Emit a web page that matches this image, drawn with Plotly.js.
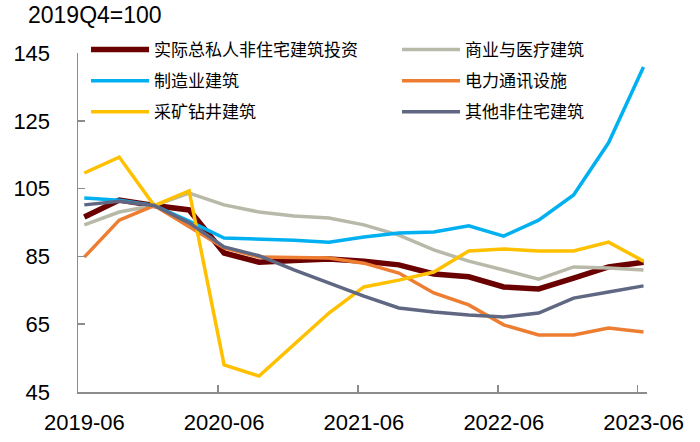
<!DOCTYPE html>
<html>
<head>
<meta charset="utf-8">
<script src="https://cdn.plot.ly/plotly-3.0.1.min.js"></script>
<style>html,body{margin:0;padding:0;background:#fff;}#chart{width:700px;height:442px;}</style>
</head>
<body>
<div id="chart"></div>
<script>
var quarters = ['2019-06','2019-09','2019-12','2020-03','2020-06','2020-09','2020-12','2021-03','2021-06','2021-09','2021-12','2022-03','2022-06','2022-09','2022-12','2023-03','2023-06'];
var seriesNames = ['实际总私人非住宅建筑投资','商业与医疗建筑','制造业建筑','电力通讯设施','采矿钻井建筑','其他非住宅建筑'];
var totalPrivate = [96.6,101.6,100,98.7,86.0,83.3,83.8,84.2,83.6,82.5,79.8,79.0,76.0,75.4,78.6,81.9,83.3];
var commercialHealth = [94.3,98.1,100,103.7,100.2,98.1,96.9,96.3,94.3,91.3,86.9,83.6,81.0,78.3,81.9,81.6,81.0];
var manufacturing = [102.2,101.6,100,95.4,90.4,90.1,89.8,89.2,90.7,91.9,92.2,94.0,91.0,95.7,103.1,118.5,140.9];
var powerComm = [84.8,95.7,100,93.7,87.5,84.8,84.6,84.5,83.0,80.1,74.2,70.7,64.8,61.8,61.8,63.9,62.7];
var miningDrilling = [109.6,114.3,100,104.3,53.0,49.7,59.0,68.3,76.0,78.0,80.4,86.6,87.2,86.6,86.6,89.2,83.6];
var otherNonRes = [100.2,101.3,100,94.9,87.8,85.2,81.0,77.2,73.3,69.8,68.6,67.7,67.1,68.3,72.7,74.5,76.3];
var yTicks = [45,65,85,105,125,145];

var seriesValues = [totalPrivate, commercialHealth, manufacturing, powerComm, miningDrilling, otherNonRes];
var colors = ['#6B0000','#B9B9A9','#00B0F0','#ED7D31','#FFC000','#5F6782'];
var widths = [5.5,3.5,3.5,3.5,3.5,3.5];
var legendOf = ['legend','legend2','legend','legend2','legend','legend2'];
var xIdx = quarters.map(function(q,i){return i;});

var traces = seriesValues.map(function(vals,k){
  return {x:xIdx, y:vals, type:'scatter', mode:'lines', name:seriesNames[k],
    legend:legendOf[k], legendgroup:'g'+k,
    line:{color:colors[k], width:widths[k]}, hoverinfo:'skip'};
});

var tickIdx = [], tickTxt = [];
quarters.forEach(function(q,i){ if(i%4===0){ tickIdx.push(i-0.17); tickTxt.push(q);} });

var font = 'Liberation Sans, Arial, Noto Sans CJK SC, sans-serif';
var legFont = {size:17, family:'Noto Sans CJK SC, sans-serif', color:'#000'};
function legendCfg(xp){
  return {orientation:'v', x:xp, xanchor:'left', y:1.062, yanchor:'top',
    font:legFont, bgcolor:'rgba(0,0,0,0)', traceorder:'grouped', tracegroupgap:6, itemwidth:58};
}
var layout = {
  width:700, height:442,
  margin:{l:78, r:53, t:53, b:50},
  paper_bgcolor:'#fff', plot_bgcolor:'#fff',
  font:{family:font, color:'#000'},
  title:{text:'2019Q4=100', font:{size:23, family:font, color:'#000'}, xref:'container', yref:'container', x:28/700, xanchor:'left', y:1-15/442, yanchor:'middle'},
  showlegend:true,
  legend:legendCfg(0.0141),
  legend2:legendCfg(0.5606),
  xaxis:{type:'linear', range:[-0.18,16.1], tickmode:'array', tickvals:tickIdx, ticktext:tickTxt,
    showgrid:false, zeroline:false, showline:true, linecolor:'#8C8C8C', linewidth:1.5,
    ticks:'inside', ticklen:7, tickcolor:'#8C8C8C', tickwidth:1.5, ticklabelshift:6, ticklabelstandoff:10,
    tickfont:{size:22, family:font, color:'#000'}},
  yaxis:{range:[45,145], tickmode:'array', tickvals:yTicks,
    showgrid:false, zeroline:false, showline:true, linecolor:'#8C8C8C', linewidth:1.5,
    ticks:'inside', ticklen:7, tickcolor:'#8C8C8C', tickwidth:1.5, ticklabelstandoff:22,
    tickfont:{size:22, family:font, color:'#000'}}
};
Plotly.newPlot('chart', traces, layout, {displayModeBar:false, staticPlot:true});
</script>
</body>
</html>
